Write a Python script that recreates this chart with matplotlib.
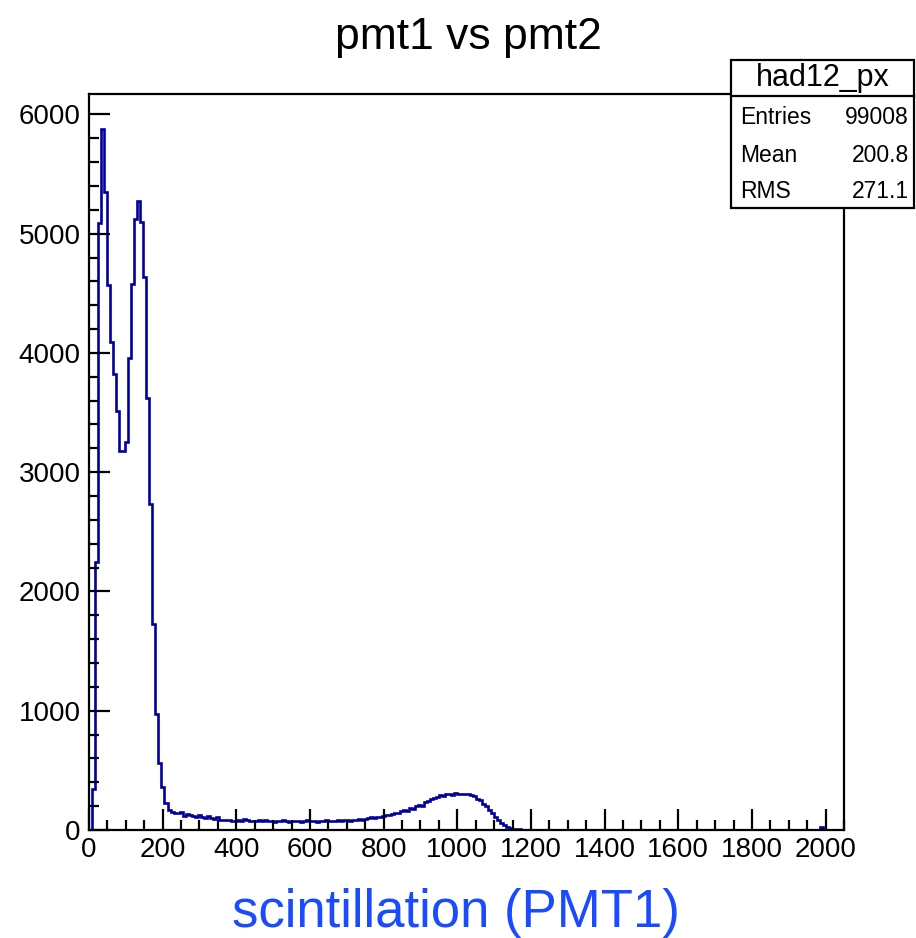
import numpy as np
import matplotlib
matplotlib.use("Agg")
import matplotlib.pyplot as plt
from matplotlib.patches import Rectangle
from matplotlib.ticker import MultipleLocator

plt.rcParams['font.family'] = ['Liberation Sans', 'DejaVu Sans']

# binning of the PMT1 spectrum
NBINS = 250
XMIN, XMAX = 0, 2050

# bin contents: low-energy double peak (bins 0-25)
counts_peak = [0, 340, 2245, 5090, 5877, 5350, 4570, 4095, 3824, 3510,
               3180, 3180, 3250, 3960, 4575, 5120, 5272, 5096, 4637, 3626,
               2733, 1724, 976, 563, 362, 228]

# flat continuum between the peaks (bins 26-90)
counts_plateau = [170, 150, 140, 145, 153, 120, 130, 128, 118, 112,
                  125, 108, 100, 115, 98, 92, 105, 86, 84, 80,
                  84, 72, 78, 82, 76, 95, 82, 78, 72, 78,
                  82, 76, 80, 74, 78, 70, 76, 72, 80, 74,
                  70, 78, 72, 75, 68, 74, 80, 72, 76, 70,
                  78, 74, 80, 72, 78, 74, 82, 76, 80, 85,
                  78, 88, 84, 92, 86]

# broad bump around 1000 (bins 91-150)
counts_bump = [96, 100, 105, 98, 112, 108, 120, 128, 122, 138,
               146, 140, 158, 168, 162, 185, 178, 200, 212, 205,
               232, 245, 258, 270, 278, 290, 286, 298, 305, 296,
               310, 300, 306, 298, 304, 296, 285, 262, 248, 222,
               200, 170, 140, 112, 82, 55, 38, 24, 18, 12,
               8, 5, 3, 2, 2, 1, 1, 1, 0, 0]

# isolated entries near the end of the range
lone_bins = [242]
lone_counts = [22]

counts = np.zeros(NBINS)
filled = counts_peak + counts_plateau + counts_bump
counts[:len(filled)] = filled
counts[lone_bins] = lone_counts
edges = np.linspace(XMIN, XMAX, NBINS + 1)

W, H = 916, 938
fig = plt.figure(figsize=(W / 100, H / 100), dpi=100)
ax = fig.add_axes([89 / W, 1 - 830 / H, (844 - 89) / W, (830 - 94) / H])

ax.stairs(counts, edges, color='#00009c', lw=1.9)

ax.set_xlim(XMIN, XMAX)
ax.set_ylim(0, counts.max() * 1.05)

ax.xaxis.set_major_locator(MultipleLocator(200))
ax.xaxis.set_minor_locator(MultipleLocator(50))
ax.yaxis.set_major_locator(MultipleLocator(1000))
ax.yaxis.set_minor_locator(MultipleLocator(200))
ax.tick_params(which='both', direction='in', top=False, right=False,
               width=1.6, colors='black', labelsize=20)
ax.tick_params(which='major', length=15)
ax.tick_params(which='minor', length=7)
ax.tick_params(axis='x', pad=5)
ax.tick_params(axis='y', pad=6)
for sp in ax.spines.values():
    sp.set_linewidth(1.6)

fig.text(0.511, 1 - 38 / H, 'pmt1 vs pmt2', ha='center', va='center', fontsize=32)
fig.text(456 / W, 1 - 913 / H, 'scintillation (PMT1)', ha='center', va='center',
         fontsize=38, color='#1a4bff')

# statistics box
bx0, bx1 = 731 / W, 914 / W
by0, by1 = 1 - 208 / H, 1 - 60 / H
sep = 1 - 96 / H
fig.patches.append(Rectangle((bx0, by0), bx1 - bx0, by1 - by0, transform=fig.transFigure,
                             facecolor='white', edgecolor='black', lw=1.6, zorder=5))
fig.add_artist(plt.Line2D([bx0, bx1], [sep, sep], transform=fig.transFigure,
                          color='black', lw=1.6, zorder=6))
fig.text((bx0 + bx1) / 2, (sep + by1) / 2, 'had12_px', ha='center', va='center',
         fontsize=22, zorder=7)
rows = [('Entries', '99008'), ('Mean', '200.8'), ('RMS', '271.1')]
row_y = [118, 155, 191]
for (name, val), yp in zip(rows, row_y):
    fig.text(740 / W, 1 - yp / H, name, ha='left', va='center', fontsize=16.5, zorder=7)
    fig.text(909 / W, 1 - yp / H, val, ha='right', va='center', fontsize=16.5, zorder=7)

fig.savefig('out.png', dpi=100)
